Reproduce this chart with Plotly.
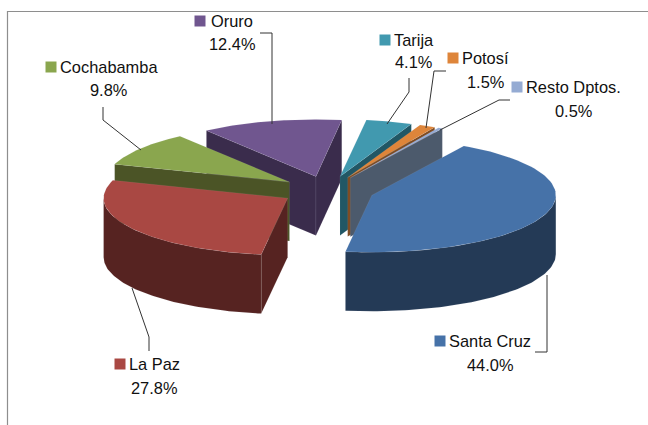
import numpy as np
import plotly.graph_objects as go

# ---- data ----
categories = ["Santa Cruz", "La Paz", "Cochabamba", "Oruro", "Tarija", "Potosí", "Resto Dptos."]
values = [44.0, 27.8, 9.8, 12.4, 4.1, 1.5, 0.5]
value_labels = ["44.0%", "27.8%", "9.8%", "12.4%", "4.1%", "1.5%", "0.5%"]

# ---- style ----
top_colors = ["#4672A8", "#A94843", "#8AA64E", "#70568F", "#4199AF", "#DE853A", "#95ABD3"]
wall_colors = ["#243A56", "#562321", "#4B5426", "#3A2C4C", "#215765", "#7E4B22", "#4C5A6C"]
# which radial cut faces are visible for each slice: (start wall, end wall)
cut_walls = [(False, False), (True, False), (True, False), (True, True),
             (False, True), (False, True), (False, True)]
paint_order = [3, 4, 5, 6, 2, 1, 0]

CX, CY, RX, RY, DEPTH, EXPLODE, START = 327.5, 190.5, 184, 57, 59, 0.255, 30.0

# label layout: marker x, name text x, name y, value centre x, value y
label_pos = [
    (440, 449, 341, 490, 365),
    (120, 129, 364, 154, 388),
    (51, 60, 67, 108, 90),
    (200, 211, 21, 232, 44),
    (385, 394, 40, 413, 62),
    (453, 462, 58, 485, 82),
    (517, 526, 87, 573, 111),
]
NAME_SHIFT = -2
leaders = [
    ([547, 547, 535], [275, 352, 352]),
    ([132, 149, 149], [288, 337, 351]),
    ([103, 103, 141], [107, 120, 150]),
    ([260, 272, 272], [33, 33, 124]),
    ([409, 409, 387], [78, 92, 124]),
    ([446, 434, 426], [71, 71, 128]),
    ([510, 499, 440], [100, 100, 130]),
]

fractions = np.array(values) / sum(values)
edges = START + np.concatenate([[0], np.cumsum(fractions) * 360])


def rim(cx, cy, angles):
    r = np.radians(angles)
    return cx + RX * np.sin(r), cy - RY * np.cos(r)


fig = go.Figure()


def poly(xs, ys, color):
    fig.add_trace(go.Scatter(
        x=list(xs) + [xs[0]], y=list(ys) + [ys[0]], mode="lines", fill="toself",
        fillcolor=color, line=dict(color="rgba(215,215,225,0.14)", width=0.6),
        hoverinfo="skip", showlegend=False))


for i in paint_order:
    a0, a1 = edges[i], edges[i + 1]
    mid = np.radians((a0 + a1) / 2)
    cx = CX + EXPLODE * RX * np.sin(mid)
    cy = CY - EXPLODE * RY * np.cos(mid)
    wall = wall_colors[i]
    # cut faces
    show_start, show_end = cut_walls[i]
    for show, ang in ((show_start, a0), (show_end, a1)):
        if show:
            px, py = rim(cx, cy, np.array([ang]))
            poly([cx, px[0], px[0], cx], [cy, py[0], py[0] + DEPTH, cy + DEPTH], wall)
    # front rim wall
    lo, hi = max(a0, 90), min(a1, 270)
    if hi > lo:
        t = np.linspace(lo, hi, 80)
        rx_, ry_ = rim(cx, cy, t)
        poly(np.concatenate([rx_, rx_[::-1]]), np.concatenate([ry_, ry_[::-1] + DEPTH]), wall)
    # top face
    t = np.linspace(a0, a1, 80)
    rx_, ry_ = rim(cx, cy, t)
    poly(np.concatenate([[cx], rx_]), np.concatenate([[cy], ry_]), top_colors[i])

# leader lines
for lx, ly in leaders:
    fig.add_trace(go.Scatter(x=lx, y=ly, mode="lines", line=dict(color="#333333", width=1),
                             hoverinfo="skip", showlegend=False))

# label swatches
fig.add_trace(go.Scatter(
    x=[p[0] for p in label_pos], y=[p[2] for p in label_pos], mode="markers",
    marker=dict(symbol="square", size=11, color=top_colors, line=dict(width=0)),
    hoverinfo="skip", showlegend=False))

font = dict(family="Liberation Sans", size=16.4, color="#111111")
for name, val, p in zip(categories, value_labels, label_pos):
    fig.add_annotation(x=p[1] + NAME_SHIFT, y=p[2], text=name, showarrow=False, xanchor="left", yanchor="middle", font=font)
    fig.add_annotation(x=p[3], y=p[4], text=val, showarrow=False, xanchor="center", yanchor="middle", font=font)

# chart frame (runs off the right and bottom of the picture)
fig.add_shape(type="rect", x0=7.5, y0=11.5, x1=700, y1=500, line=dict(color="#8E8E8E", width=1.2), layer="below")

fig.update_layout(
    width=648, height=425, margin=dict(l=0, r=0, t=0, b=0),
    paper_bgcolor="white", plot_bgcolor="white", showlegend=False,
    xaxis=dict(range=[0, 648], visible=False, fixedrange=True),
    yaxis=dict(range=[425, 0], visible=False, fixedrange=True),
)
fig.write_html("out.html", config=dict(displayModeBar=False),
               post_script="document.body.style.margin='0';document.documentElement.style.overflow='hidden';")
